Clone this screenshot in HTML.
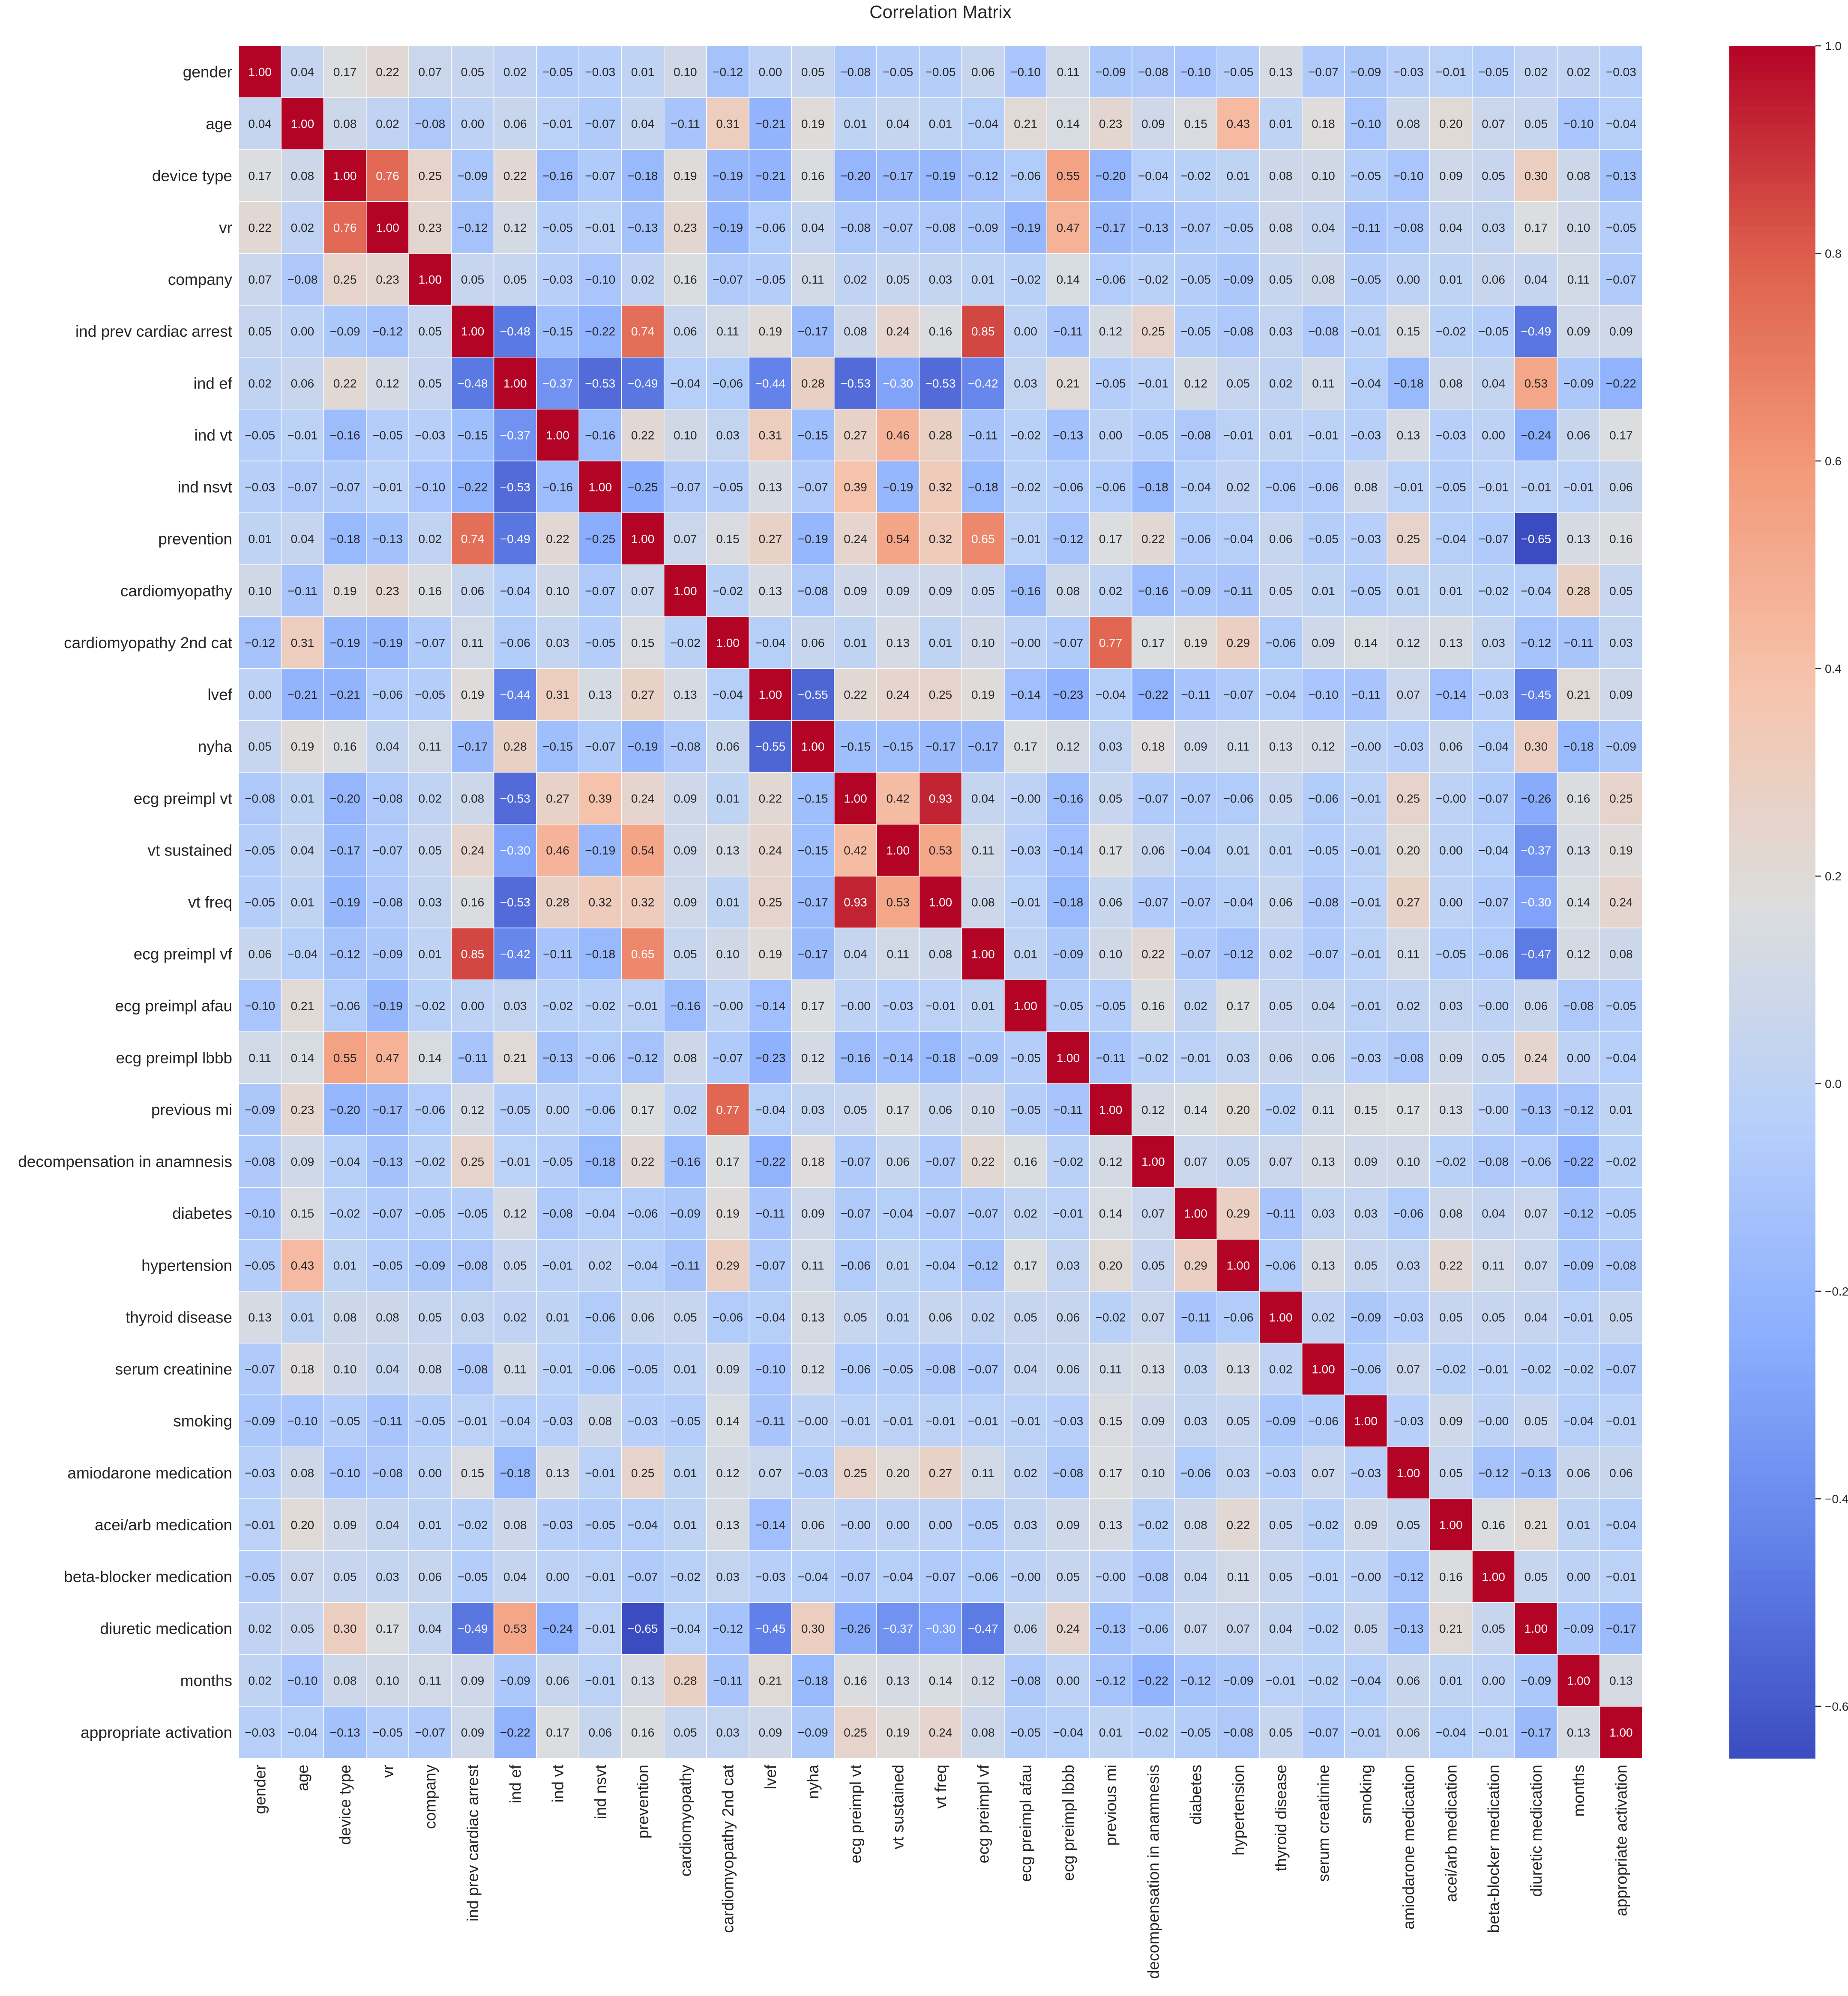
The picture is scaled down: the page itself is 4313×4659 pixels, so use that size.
<!DOCTYPE html>
<html><head><meta charset="utf-8"><style>
html,body{margin:0;padding:0;background:#fff;}
svg{display:block;font-family:"Liberation Sans",Arial,sans-serif;}
</style></head><body>
<svg id="chart" width="4313" height="4659" viewBox="0 0 4313 4659" xmlns="http://www.w3.org/2000/svg">
<rect width="4313" height="4659" fill="#fff"/>
<text x="2195" y="42" font-size="42" text-anchor="middle" fill="#262626">Correlation Matrix</text>
<g id="cells"></g><g id="ylabels"></g><g id="xlabels"></g><g id="cbar"></g>
</svg>
<script>
const labels = ["gender","age","device type","vr","company","ind prev cardiac arrest","ind ef","ind vt","ind nsvt","prevention","cardiomyopathy","cardiomyopathy 2nd cat","lvef","nyha","ecg preimpl vt","vt sustained","vt freq","ecg preimpl vf","ecg preimpl afau","ecg preimpl lbbb","previous mi","decompensation in anamnesis","diabetes","hypertension","thyroid disease","serum creatinine","smoking","amiodarone medication","acei/arb medication","beta-blocker medication","diuretic medication","months","appropriate activation"];
const matrix = [
[1.00,0.04,0.17,0.22,0.07,0.05,0.02,-0.05,-0.03,0.01,0.10,-0.12,0.00,0.05,-0.08,-0.05,-0.05,0.06,-0.10,0.11,-0.09,-0.08,-0.10,-0.05,0.13,-0.07,-0.09,-0.03,-0.01,-0.05,0.02,0.02,-0.03],
[0.04,1.00,0.08,0.02,-0.08,0.00,0.06,-0.01,-0.07,0.04,-0.11,0.31,-0.21,0.19,0.01,0.04,0.01,-0.04,0.21,0.14,0.23,0.09,0.15,0.43,0.01,0.18,-0.10,0.08,0.20,0.07,0.05,-0.10,-0.04],
[0.17,0.08,1.00,0.76,0.25,-0.09,0.22,-0.16,-0.07,-0.18,0.19,-0.19,-0.21,0.16,-0.20,-0.17,-0.19,-0.12,-0.06,0.55,-0.20,-0.04,-0.02,0.01,0.08,0.10,-0.05,-0.10,0.09,0.05,0.30,0.08,-0.13],
[0.22,0.02,0.76,1.00,0.23,-0.12,0.12,-0.05,-0.01,-0.13,0.23,-0.19,-0.06,0.04,-0.08,-0.07,-0.08,-0.09,-0.19,0.47,-0.17,-0.13,-0.07,-0.05,0.08,0.04,-0.11,-0.08,0.04,0.03,0.17,0.10,-0.05],
[0.07,-0.08,0.25,0.23,1.00,0.05,0.05,-0.03,-0.10,0.02,0.16,-0.07,-0.05,0.11,0.02,0.05,0.03,0.01,-0.02,0.14,-0.06,-0.02,-0.05,-0.09,0.05,0.08,-0.05,0.00,0.01,0.06,0.04,0.11,-0.07],
[0.05,0.00,-0.09,-0.12,0.05,1.00,-0.48,-0.15,-0.22,0.74,0.06,0.11,0.19,-0.17,0.08,0.24,0.16,0.85,0.00,-0.11,0.12,0.25,-0.05,-0.08,0.03,-0.08,-0.01,0.15,-0.02,-0.05,-0.49,0.09,0.09],
[0.02,0.06,0.22,0.12,0.05,-0.48,1.00,-0.37,-0.53,-0.49,-0.04,-0.06,-0.44,0.28,-0.53,-0.30,-0.53,-0.42,0.03,0.21,-0.05,-0.01,0.12,0.05,0.02,0.11,-0.04,-0.18,0.08,0.04,0.53,-0.09,-0.22],
[-0.05,-0.01,-0.16,-0.05,-0.03,-0.15,-0.37,1.00,-0.16,0.22,0.10,0.03,0.31,-0.15,0.27,0.46,0.28,-0.11,-0.02,-0.13,0.00,-0.05,-0.08,-0.01,0.01,-0.01,-0.03,0.13,-0.03,0.00,-0.24,0.06,0.17],
[-0.03,-0.07,-0.07,-0.01,-0.10,-0.22,-0.53,-0.16,1.00,-0.25,-0.07,-0.05,0.13,-0.07,0.39,-0.19,0.32,-0.18,-0.02,-0.06,-0.06,-0.18,-0.04,0.02,-0.06,-0.06,0.08,-0.01,-0.05,-0.01,-0.01,-0.01,0.06],
[0.01,0.04,-0.18,-0.13,0.02,0.74,-0.49,0.22,-0.25,1.00,0.07,0.15,0.27,-0.19,0.24,0.54,0.32,0.65,-0.01,-0.12,0.17,0.22,-0.06,-0.04,0.06,-0.05,-0.03,0.25,-0.04,-0.07,-0.65,0.13,0.16],
[0.10,-0.11,0.19,0.23,0.16,0.06,-0.04,0.10,-0.07,0.07,1.00,-0.02,0.13,-0.08,0.09,0.09,0.09,0.05,-0.16,0.08,0.02,-0.16,-0.09,-0.11,0.05,0.01,-0.05,0.01,0.01,-0.02,-0.04,0.28,0.05],
[-0.12,0.31,-0.19,-0.19,-0.07,0.11,-0.06,0.03,-0.05,0.15,-0.02,1.00,-0.04,0.06,0.01,0.13,0.01,0.10,-0.00,-0.07,0.77,0.17,0.19,0.29,-0.06,0.09,0.14,0.12,0.13,0.03,-0.12,-0.11,0.03],
[0.00,-0.21,-0.21,-0.06,-0.05,0.19,-0.44,0.31,0.13,0.27,0.13,-0.04,1.00,-0.55,0.22,0.24,0.25,0.19,-0.14,-0.23,-0.04,-0.22,-0.11,-0.07,-0.04,-0.10,-0.11,0.07,-0.14,-0.03,-0.45,0.21,0.09],
[0.05,0.19,0.16,0.04,0.11,-0.17,0.28,-0.15,-0.07,-0.19,-0.08,0.06,-0.55,1.00,-0.15,-0.15,-0.17,-0.17,0.17,0.12,0.03,0.18,0.09,0.11,0.13,0.12,-0.00,-0.03,0.06,-0.04,0.30,-0.18,-0.09],
[-0.08,0.01,-0.20,-0.08,0.02,0.08,-0.53,0.27,0.39,0.24,0.09,0.01,0.22,-0.15,1.00,0.42,0.93,0.04,-0.00,-0.16,0.05,-0.07,-0.07,-0.06,0.05,-0.06,-0.01,0.25,-0.00,-0.07,-0.26,0.16,0.25],
[-0.05,0.04,-0.17,-0.07,0.05,0.24,-0.30,0.46,-0.19,0.54,0.09,0.13,0.24,-0.15,0.42,1.00,0.53,0.11,-0.03,-0.14,0.17,0.06,-0.04,0.01,0.01,-0.05,-0.01,0.20,0.00,-0.04,-0.37,0.13,0.19],
[-0.05,0.01,-0.19,-0.08,0.03,0.16,-0.53,0.28,0.32,0.32,0.09,0.01,0.25,-0.17,0.93,0.53,1.00,0.08,-0.01,-0.18,0.06,-0.07,-0.07,-0.04,0.06,-0.08,-0.01,0.27,0.00,-0.07,-0.30,0.14,0.24],
[0.06,-0.04,-0.12,-0.09,0.01,0.85,-0.42,-0.11,-0.18,0.65,0.05,0.10,0.19,-0.17,0.04,0.11,0.08,1.00,0.01,-0.09,0.10,0.22,-0.07,-0.12,0.02,-0.07,-0.01,0.11,-0.05,-0.06,-0.47,0.12,0.08],
[-0.10,0.21,-0.06,-0.19,-0.02,0.00,0.03,-0.02,-0.02,-0.01,-0.16,-0.00,-0.14,0.17,-0.00,-0.03,-0.01,0.01,1.00,-0.05,-0.05,0.16,0.02,0.17,0.05,0.04,-0.01,0.02,0.03,-0.00,0.06,-0.08,-0.05],
[0.11,0.14,0.55,0.47,0.14,-0.11,0.21,-0.13,-0.06,-0.12,0.08,-0.07,-0.23,0.12,-0.16,-0.14,-0.18,-0.09,-0.05,1.00,-0.11,-0.02,-0.01,0.03,0.06,0.06,-0.03,-0.08,0.09,0.05,0.24,0.00,-0.04],
[-0.09,0.23,-0.20,-0.17,-0.06,0.12,-0.05,0.00,-0.06,0.17,0.02,0.77,-0.04,0.03,0.05,0.17,0.06,0.10,-0.05,-0.11,1.00,0.12,0.14,0.20,-0.02,0.11,0.15,0.17,0.13,-0.00,-0.13,-0.12,0.01],
[-0.08,0.09,-0.04,-0.13,-0.02,0.25,-0.01,-0.05,-0.18,0.22,-0.16,0.17,-0.22,0.18,-0.07,0.06,-0.07,0.22,0.16,-0.02,0.12,1.00,0.07,0.05,0.07,0.13,0.09,0.10,-0.02,-0.08,-0.06,-0.22,-0.02],
[-0.10,0.15,-0.02,-0.07,-0.05,-0.05,0.12,-0.08,-0.04,-0.06,-0.09,0.19,-0.11,0.09,-0.07,-0.04,-0.07,-0.07,0.02,-0.01,0.14,0.07,1.00,0.29,-0.11,0.03,0.03,-0.06,0.08,0.04,0.07,-0.12,-0.05],
[-0.05,0.43,0.01,-0.05,-0.09,-0.08,0.05,-0.01,0.02,-0.04,-0.11,0.29,-0.07,0.11,-0.06,0.01,-0.04,-0.12,0.17,0.03,0.20,0.05,0.29,1.00,-0.06,0.13,0.05,0.03,0.22,0.11,0.07,-0.09,-0.08],
[0.13,0.01,0.08,0.08,0.05,0.03,0.02,0.01,-0.06,0.06,0.05,-0.06,-0.04,0.13,0.05,0.01,0.06,0.02,0.05,0.06,-0.02,0.07,-0.11,-0.06,1.00,0.02,-0.09,-0.03,0.05,0.05,0.04,-0.01,0.05],
[-0.07,0.18,0.10,0.04,0.08,-0.08,0.11,-0.01,-0.06,-0.05,0.01,0.09,-0.10,0.12,-0.06,-0.05,-0.08,-0.07,0.04,0.06,0.11,0.13,0.03,0.13,0.02,1.00,-0.06,0.07,-0.02,-0.01,-0.02,-0.02,-0.07],
[-0.09,-0.10,-0.05,-0.11,-0.05,-0.01,-0.04,-0.03,0.08,-0.03,-0.05,0.14,-0.11,-0.00,-0.01,-0.01,-0.01,-0.01,-0.01,-0.03,0.15,0.09,0.03,0.05,-0.09,-0.06,1.00,-0.03,0.09,-0.00,0.05,-0.04,-0.01],
[-0.03,0.08,-0.10,-0.08,0.00,0.15,-0.18,0.13,-0.01,0.25,0.01,0.12,0.07,-0.03,0.25,0.20,0.27,0.11,0.02,-0.08,0.17,0.10,-0.06,0.03,-0.03,0.07,-0.03,1.00,0.05,-0.12,-0.13,0.06,0.06],
[-0.01,0.20,0.09,0.04,0.01,-0.02,0.08,-0.03,-0.05,-0.04,0.01,0.13,-0.14,0.06,-0.00,0.00,0.00,-0.05,0.03,0.09,0.13,-0.02,0.08,0.22,0.05,-0.02,0.09,0.05,1.00,0.16,0.21,0.01,-0.04],
[-0.05,0.07,0.05,0.03,0.06,-0.05,0.04,0.00,-0.01,-0.07,-0.02,0.03,-0.03,-0.04,-0.07,-0.04,-0.07,-0.06,-0.00,0.05,-0.00,-0.08,0.04,0.11,0.05,-0.01,-0.00,-0.12,0.16,1.00,0.05,0.00,-0.01],
[0.02,0.05,0.30,0.17,0.04,-0.49,0.53,-0.24,-0.01,-0.65,-0.04,-0.12,-0.45,0.30,-0.26,-0.37,-0.30,-0.47,0.06,0.24,-0.13,-0.06,0.07,0.07,0.04,-0.02,0.05,-0.13,0.21,0.05,1.00,-0.09,-0.17],
[0.02,-0.10,0.08,0.10,0.11,0.09,-0.09,0.06,-0.01,0.13,0.28,-0.11,0.21,-0.18,0.16,0.13,0.14,0.12,-0.08,0.00,-0.12,-0.22,-0.12,-0.09,-0.01,-0.02,-0.04,0.06,0.01,0.00,-0.09,1.00,0.13],
[-0.03,-0.04,-0.13,-0.05,-0.07,0.09,-0.22,0.17,0.06,0.16,0.05,0.03,0.09,-0.09,0.25,0.19,0.24,0.08,-0.05,-0.04,0.01,-0.02,-0.05,-0.08,0.05,-0.07,-0.01,0.06,-0.04,-0.01,-0.17,0.13,1.00]
];
const cbarTicks = [-0.6,-0.4,-0.2,0.0,0.2,0.4,0.6,0.8,1.0];

const NS = "http://www.w3.org/2000/svg";
const X0 = 557, X1 = 3833, Y0 = 107, Y1 = 4104;
const n = labels.length;
const cw = (X1 - X0) / n, ch = (Y1 - Y0) / n;
let vmin = Infinity, vmax = -Infinity;
matrix.forEach(r => r.forEach(v => { vmin = Math.min(vmin, v); vmax = Math.max(vmax, v); }));
const xScale = i => X0 + i * cw;
const yScale = i => Y0 + i * ch;
const cbY = v => Y1 - (v - vmin) / (vmax - vmin) * (Y1 - Y0);

const stops = [[59,76,192],[98,130,234],[141,176,254],[184,208,249],[221,221,221],[245,196,173],[244,154,123],[222,96,77],[180,4,38]];
function cmapRGB(v) {
  let t = (v - vmin) / (vmax - vmin); t = Math.max(0, Math.min(1, t));
  const p = t * (stops.length - 1), i = Math.min(Math.floor(p), stops.length - 2), f = p - i;
  return stops[i].map((c, k) => Math.round(c + (stops[i+1][k] - c) * f));
}
function rgb(a){ return `rgb(${a[0]},${a[1]},${a[2]})`; }
function lum(a){ const c = a.map(x => { x/=255; return x <= 0.03928 ? x/12.92 : Math.pow((x+0.055)/1.055, 2.4); }); return 0.2126*c[0]+0.7152*c[1]+0.0722*c[2]; }
function fmt(v){ const neg = v < 0 || Object.is(v, -0); return (neg ? '\u2212' : '') + Math.abs(v).toFixed(2); }
function mk(tag, attrs, parent){ const e = document.createElementNS(NS, tag); for (const k in attrs) e.setAttribute(k, attrs[k]); parent.appendChild(e); return e; }

const gc = document.getElementById('cells');
for (let r = 0; r < n; r++) for (let c = 0; c < n; c++) {
  const v = matrix[r][c], col = cmapRGB(v);
  const rect = mk('rect', {x: xScale(c), y: yScale(r), width: cw, height: ch, fill: rgb(col), stroke: '#fff', 'stroke-width': 1.5}, gc);
  
  
  const t = mk('text', {x: xScale(c) + cw/2, y: yScale(r) + ch/2 + 10, 'font-size': 28, 'text-anchor': 'middle', fill: lum(col) > 0.408 ? '#262626' : '#ffffff'}, gc);
  t.textContent = fmt(v);
  
  
}
const gy = document.getElementById('ylabels'), gx = document.getElementById('xlabels');
labels.forEach((l, i) => {
  const t = mk('text', {x: X0 - 15, y: yScale(i) + ch/2 + 13, 'font-size': 37, 'text-anchor': 'end', fill: '#262626'}, gy);
  t.textContent = l;
  
  
  const cx = xScale(i) + cw/2 + 13, cy = Y1 + 15;
  const u = mk('text', {x: cx, y: cy, 'font-size': 37, 'text-anchor': 'end', fill: '#262626', transform: `rotate(-90 ${cx} ${cy})`}, gx);
  u.textContent = l;
  
  
});
const gb = document.getElementById('cbar');
const CB0 = 4036, CB1 = 4237;
const steps = 200;
for (let k = 0; k < steps; k++) {
  const va = vmin + (vmax - vmin) * k / steps, vb = vmin + (vmax - vmin) * (k+1) / steps;
  const seg = mk('rect', {x: CB0, y: cbY(vb), width: CB1 - CB0, height: cbY(va) - cbY(vb) + 0.8, fill: rgb(cmapRGB((va+vb)/2))}, gb);
  
  
}
cbarTicks.forEach(v => {
  const y = cbY(v);
  const tk = mk('line', {x1: CB1, x2: CB1 + 13, y1: y, y2: y, stroke: '#262626', 'stroke-width': 2.5}, gb);
  
  
  const t = mk('text', {x: CB1 + 22, y: y + 10, 'font-size': 28, fill: '#262626'}, gb);
  t.textContent = v < 0 ? '\u2212' + Math.abs(v).toFixed(1) : v.toFixed(1);
  
  
});
</script>
</body></html>
